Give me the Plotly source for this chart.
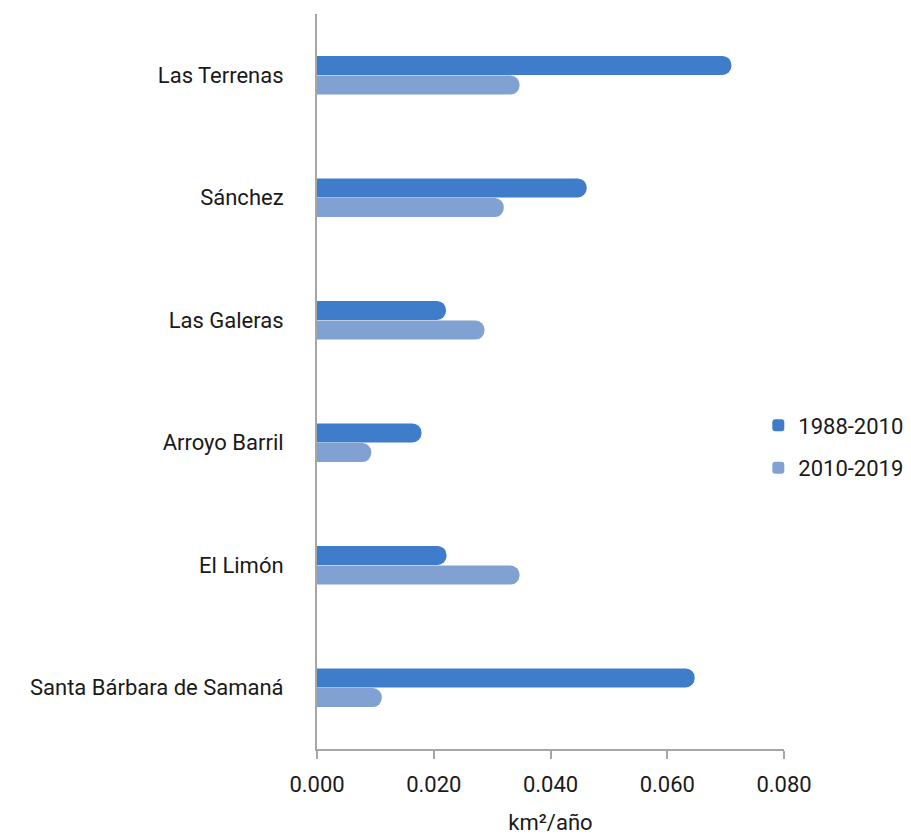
import plotly.graph_objects as go

categories = ["Las Terrenas", "Sánchez", "Las Galeras", "Arroyo Barril", "El Limón", "Santa Bárbara de Samaná"]
series_names = ["1988-2010", "2010-2019"]
values_1988_2010 = [0.071, 0.0462, 0.0221, 0.0179, 0.0222, 0.0647]
values_2010_2019 = [0.0347, 0.0320, 0.0287, 0.0093, 0.0347, 0.0111]
tick_vals = [0, 0.02, 0.04, 0.06, 0.08]
tick_text = ["0.000", "0.020", "0.040", "0.060", "0.080"]
colors = ["#3F7CCA", "#81A1D3"]

fig = go.Figure()
for name, vals, col in zip(series_names, [values_1988_2010, values_2010_2019], colors):
    fig.add_trace(go.Bar(
        y=categories, x=vals, name=name, orientation="h", legendgroup=name,
        marker=dict(color=col, line=dict(width=0)),
    ))

fig.update_layout(
    width=911, height=835,
    template="plotly_white",
    paper_bgcolor="white", plot_bgcolor="white",
    barmode="group", bargap=0.68, bargroupgap=0.03,
    barcornerradius=9,
    font=dict(family="Roboto", size=22, color="#1a1a1a"),
    margin=dict(l=309, r=135, t=6, b=94),
    legend=dict(x=0.945, y=0.411, xanchor="left", yanchor="middle",
                font=dict(size=22, family="Roboto"), itemwidth=30,
                tracegroupgap=11, traceorder="grouped"),
    xaxis=dict(range=[0, 0.08], tickvals=tick_vals, ticktext=tick_text,
               showgrid=False, zeroline=False, showline=True,
               linecolor="#A6A6A6", linewidth=2, ticks="outside",
               ticklen=8, tickcolor="#A6A6A6", tickwidth=2,
               ticklabelstandoff=7,
               title=dict(text="km²/año", font=dict(size=22), standoff=18)),
    yaxis=dict(autorange="reversed", showgrid=False, zeroline=False,
               showline=True, linecolor="#A6A6A6", linewidth=2,
               ticks="", ticklabelstandoff=27),
)

fig.write_html("out.html")
